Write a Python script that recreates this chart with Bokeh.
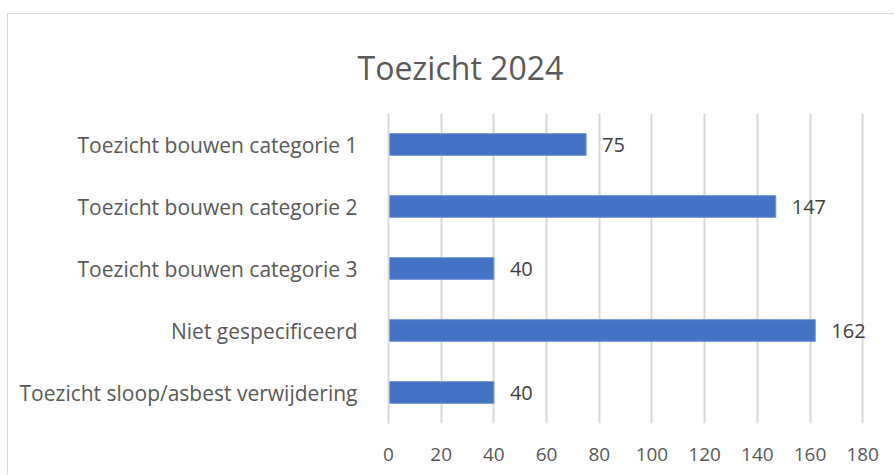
from bokeh.plotting import figure
from bokeh.models import ColumnDataSource, FactorRange, Range1d, FixedTicker, LabelSet
from bokeh.embed import file_html
from bokeh.resources import INLINE
from bokeh.core.properties import value

categories = [
    "Toezicht bouwen categorie 1",
    "Toezicht bouwen categorie 2",
    "Toezicht bouwen categorie 3",
    "Niet gespecificeerd",
    "Toezicht sloop/asbest verwijdering",
]
values = [75, 147, 40, 162, 40]
x_ticks = [0, 20, 40, 60, 80, 100, 120, 140, 160, 180]
title_text = "Toezicht 2024"

FONT = "Open Sans"

src = ColumnDataSource(dict(cat=categories, val=values, lbl=[str(v) for v in values]))

p = figure(
    width=887, height=461,
    y_range=FactorRange(*reversed(categories)),
    x_range=Range1d(0, 186),
    output_backend="svg", toolbar_location=None,
    min_border_left=380, min_border_right=17, min_border_top=99, min_border_bottom=52,
    title=title_text,
)
p.margin = (13, 0, 0, 7)
p.styles = {"border-left": "1px solid #D9D9D9", "border-top": "1px solid #D9D9D9"}
p.background_fill_color = "white"
p.border_fill_color = "white"
p.outline_line_color = None

p.title.align = "left"
p.title.offset = -31
p.title.text_font = FONT
p.title.text_font_style = "normal"
p.title.text_font_size = "32px"
p.title.text_color = "#595959"
p.title.standoff = 50

p.hbar(y="cat", right="val", left=0, height=0.35, source=src,
       fill_color="#4472C4", line_color="#6F93D4", line_width=1)

labels = LabelSet(x="val", y="cat", text="lbl", source=src, x_offset=16,
                  text_baseline="middle", text_font=value(FONT), text_font_size="20px",
                  text_color="#404040")
p.add_layout(labels)

p.xaxis.ticker = FixedTicker(ticks=x_ticks)
p.xaxis.axis_line_color = None
p.xaxis.major_tick_line_color = None
p.xaxis.minor_tick_line_color = None
p.xaxis.major_label_text_font = FONT
p.xaxis.major_label_text_font_size = "19px"
p.xaxis.major_label_text_color = "#595959"
p.xaxis.major_label_standoff = 18

p.yaxis.axis_line_color = "#D9D9D9"
p.yaxis.axis_line_width = 2
p.yaxis.major_tick_line_color = None
p.yaxis.minor_tick_line_color = None
p.yaxis.major_label_text_font = FONT
p.yaxis.major_label_text_font_size = "21px"
p.yaxis.major_label_text_color = "#595959"
p.yaxis.major_label_standoff = 25

p.xgrid.grid_line_color = "#D9D9D9"
p.xgrid.grid_line_width = 2
p.ygrid.grid_line_color = None

open("out.html", "w").write(file_html(p, INLINE))
